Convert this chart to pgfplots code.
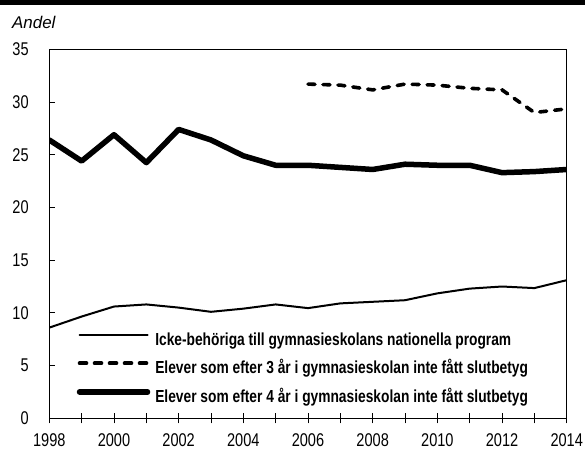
\documentclass[border=0pt]{standalone}
\usepackage{fontspec}
\setmainfont{Liberation Sans}[FakeStretch=0.79]
\newfontfamily\andelfont{Liberation Sans}
\usepackage{pgfplots}
\pgfplotsset{compat=1.18}
\usetikzlibrary{calc}

\begin{document}
\begin{tikzpicture}
\begin{axis}[
  name=ax,
  scale only axis,
  width=517.4bp, height=369bp,
  xmin=1998, xmax=2014, ymin=0, ymax=35,
  xtick={1998,2000,...,2014},
  minor xtick={1999,2001,...,2013},
  ytick={0,5,...,35},
  xtick pos=left, ytick pos=left,
  xtick align=center, ytick align=inside,
  xtick style={/pgfplots/major tick length=10bp, /pgfplots/minor tick length=10bp},
  ytick style={/pgfplots/major tick length=5.5bp},
  axis line style={line width=0.8bp},
  tick style={black, line width=0.8bp},
  ticklabel style={font=\fontsize{18.5}{18.5}\selectfont},
  yticklabel style={inner sep=0pt, xshift=-20.5bp},
  xticklabel style={inner sep=0pt, yshift=-13.5bp},
  /pgf/number format/1000 sep={},
  /pgf/number format/assume math mode=true,
  legend style={draw=none, fill=none, at={(axis cs:1998.85,8.0)}, anchor=north west,
    inner sep=0pt, outer sep=0pt, row sep=12.5bp, column sep=5bp,
    nodes={inner sep=0pt, text height=12bp, text depth=3bp},
    font=\fontsize{17.5}{17.5}\selectfont\bfseries},
  legend cell align=left,
  legend image code/.code={\draw[#1, line cap=round] (1bp,6bp) -- (69bp,6bp);},
]
\addplot[black, line width=2bp, line join=round] coordinates {
  (1998,8.6) (1999,9.65) (2000,10.6) (2001,10.8) (2002,10.5) (2003,10.1)
  (2004,10.4) (2005,10.8) (2006,10.45) (2007,10.9) (2008,11.05) (2009,11.2)
  (2010,11.85) (2011,12.3) (2012,12.5) (2013,12.35) (2014,13.1)};
\addlegendentry{Icke-behöriga till gymnasieskolans nationella program}
\addplot[black, line width=3.6bp, line cap=round, dash pattern=on 7bp off 8bp] coordinates {
  (2006,31.7) (2007,31.6) (2008,31.15) (2009,31.7) (2010,31.6) (2011,31.3)
  (2012,31.15) (2013,29.0) (2014,29.35)};
\addlegendentry{Elever som efter 3 år i gymnasieskolan inte fått slutbetyg}
\addplot[black, line width=5.5bp, line join=round, line cap=round] coordinates {
  (1998,26.4) (1999,24.4) (2000,26.9) (2001,24.25) (2002,27.4) (2003,26.4)
  (2004,24.9) (2005,24.0) (2006,24.0) (2007,23.8) (2008,23.6) (2009,24.1)
  (2010,24.0) (2011,24.0) (2012,23.3) (2013,23.4) (2014,23.6)};
\addlegendentry{Elever som efter 4 år i gymnasieskolan inte fått slutbetyg}
\end{axis}
\fill[black] ($(ax.north west)+(-49.3bp,49.3bp)$) rectangle ($(ax.north east)+(18.3bp,44.3bp)$);
\node[anchor=base west, inner sep=0pt, font=\andelfont\itshape\fontsize{17}{17}\selectfont]
  at ($(ax.north west)+(-37.3bp,21bp)$) {Andel};
\pgfresetboundingbox
\path[use as bounding box] ($(ax.south west)+(-49.3bp,-31.7bp)$) rectangle ($(ax.north east)+(18.3bp,49.3bp)$);
\end{tikzpicture}
\end{document}
